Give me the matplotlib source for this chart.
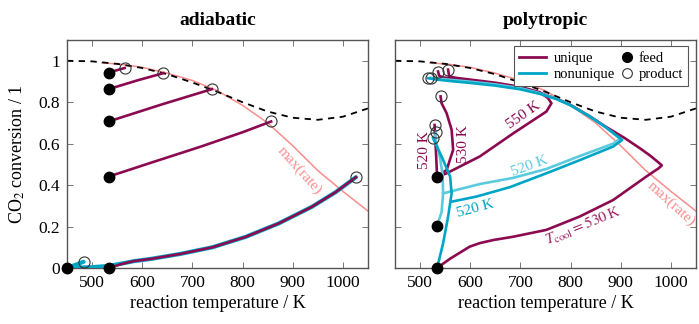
import numpy as np
import matplotlib
matplotlib.use("Agg")
import matplotlib.pyplot as plt
from matplotlib.lines import Line2D
from matplotlib.legend_handler import HandlerLine2D

plt.rcParams['font.family'] = ['Liberation Serif', 'DejaVu Serif']
plt.rcParams['mathtext.fontset'] = 'stix'

UNIQ = '#8b0a50'
NONU = '#00a5c6'
NONU_L = '#5ccadd'
PINK = '#fa8c8c'

# equilibrium conversion and max(rate) line (both panels)
eq_T = [450, 500, 550, 600, 650, 700, 750, 800, 850, 900, 950, 1000, 1050]
eq_X = [1.0, 0.997, 0.985, 0.965, 0.935, 0.895, 0.85, 0.80, 0.755, 0.725, 0.715, 0.73, 0.77]
mr_T = [520, 560, 600, 650, 700, 750, 800, 850, 900, 950, 1000, 1050]
mr_X = [0.99, 0.982, 0.968, 0.94, 0.905, 0.855, 0.785, 0.70, 0.59, 0.47, 0.37, 0.275]

# adiabatic panel
ad_uniq = [
    ([533, 565], [0.943, 0.965]),
    ([533, 590, 642], [0.863, 0.905, 0.94]),
    ([533, 640, 739], [0.707, 0.79, 0.863]),
    ([533, 620, 716, 800, 857], [0.441, 0.51, 0.585, 0.655, 0.707]),
    ([533, 560, 583, 620, 676, 740, 806, 872, 938, 985, 1026],
     [0.0, 0.02, 0.033, 0.045, 0.068, 0.10, 0.15, 0.215, 0.295, 0.365, 0.438]),
]
ad_nonu = [
    ([450, 483], [0.0, 0.03]),
    ([450, 500, 533, 560, 583, 620, 676, 740, 806, 872, 938, 985, 1026],
     [0.0, 0.004, 0.01, 0.022, 0.033, 0.045, 0.068, 0.10, 0.15, 0.215, 0.295, 0.365, 0.438]),
]
ad_feed_T = [533, 533, 533, 533, 533, 450]
ad_feed_X = [0.943, 0.863, 0.707, 0.441, 0.0, 0.0]
ad_prod_T = [565, 642, 739, 857, 1026, 483]
ad_prod_X = [0.965, 0.94, 0.863, 0.707, 0.438, 0.03]

# polytropic panel
po_nonu_dark = [
    ([534, 546, 556, 563, 560, 546, 535, 526],
     [0.0, 0.119, 0.248, 0.36, 0.441, 0.522, 0.58, 0.627]),
    ([563, 613, 679, 752, 818, 885, 903, 870, 838, 800, 772, 739, 700, 650, 600, 560, 530, 516],
     [0.32, 0.345, 0.39, 0.457, 0.52, 0.586, 0.618, 0.68, 0.731, 0.785, 0.815, 0.84, 0.862,
      0.88, 0.893, 0.902, 0.91, 0.916]),
]
po_nonu_light = [
    ([534, 543, 546, 545, 540, 533, 530, 532],
     [0.204, 0.27, 0.36, 0.45, 0.53, 0.6, 0.635, 0.658]),
    ([546, 619, 686, 752, 818, 885, 899, 866, 834, 796, 768, 735, 700, 650, 600, 560, 530, 521],
     [0.36, 0.405, 0.435, 0.478, 0.54, 0.6, 0.624, 0.686, 0.737, 0.79, 0.82, 0.846, 0.868,
      0.886, 0.899, 0.908, 0.915, 0.918]),
]
po_uniq = [
    # T_cool = 530 K
    ([534, 560, 599, 619, 646, 686, 752, 818, 885, 951, 975, 982, 975, 960, 940, 908,
      870, 838, 800, 772, 739, 700, 650, 600, 560, 545, 538, 536],
     [0.0, 0.045, 0.103, 0.12, 0.135, 0.151, 0.184, 0.248, 0.328, 0.441, 0.48, 0.495, 0.51,
      0.54, 0.575, 0.627, 0.682, 0.733, 0.787, 0.817, 0.845, 0.87, 0.89, 0.905, 0.915, 0.92,
      0.928, 0.948]),
    # 550 K
    ([540, 553, 619, 686, 752, 762, 755, 739, 700, 650, 600, 570, 558, 556],
     [0.445, 0.457, 0.538, 0.65, 0.755, 0.795, 0.82, 0.848, 0.874, 0.894, 0.909, 0.918,
      0.925, 0.957]),
    # 530 K
    ([536, 553, 566, 563, 553, 543, 541],
     [0.445, 0.473, 0.57, 0.667, 0.747, 0.795, 0.828]),
    # 520 K
    ([534, 532, 530, 529],
     [0.438, 0.55, 0.64, 0.69]),
]
po_feed_T = [534, 534, 534]
po_feed_X = [0.438, 0.204, 0.0]
po_prod_T = [516, 521, 536, 556, 541, 529, 532, 526]
po_prod_X = [0.916, 0.918, 0.948, 0.957, 0.828, 0.69, 0.658, 0.627]


class RightMarker(HandlerLine2D):
    # put the legend marker at the right end of its handle box
    def get_xdata(self, legend, xdescent, ydescent, width, height, fontsize):
        x = width - xdescent - 0.3 * fontsize
        return [x, x], [x, x]


def style_axes(ax):
    ax.set_xlim(450, 1050)
    ax.set_ylim(0, 1.1)
    ax.set_xticks([500, 600, 700, 800, 900, 1000])
    ax.set_yticks([0, 0.2, 0.4, 0.6, 0.8, 1.0])
    ax.tick_params(direction='in', top=True, right=True, length=4, width=0.7,
                   color='#777777', labelsize=12.5, pad=5)
    for s in ax.spines.values():
        s.set_color('#555555')
        s.set_linewidth(1.0)
    ax.set_xlabel('reaction temperature / K', fontsize=13, labelpad=3)
    ax.plot(mr_T, mr_X, color=PINK, lw=1.1, zorder=2)
    ax.plot(eq_T, eq_X, color='black', lw=1.3, ls=(0, (3.5, 3)), zorder=2)


def feeds_products(ax, fT, fX, pT, pX):
    ax.plot(fT, fX, 'o', color='black', ms=7.5, zorder=6, clip_on=False)
    ax.plot(pT, pX, 'o', mfc='none', mec='#333333', mew=0.8, ms=8, zorder=6, clip_on=False)


fig = plt.figure(figsize=(6.99, 3.24), dpi=100)
ax1 = fig.add_axes([0.0958, 0.1728, 0.4306, 0.7037])
ax2 = fig.add_axes([0.565, 0.1728, 0.4306, 0.7037])

# adiabatic
style_axes(ax1)
for T, X in ad_nonu:
    ax1.plot(T, X, color=NONU, lw=3.0, zorder=3, solid_capstyle='round')
for T, X in ad_uniq:
    ax1.plot(T, X, color=UNIQ, lw=1.9, zorder=4)
feeds_products(ax1, ad_feed_T, ad_feed_X, ad_prod_T, ad_prod_X)
ax1.set_yticklabels(['0', '0.2', '0.4', '0.6', '0.8', '1'])
ax1.set_ylabel('CO$_2$ conversion / 1', fontsize=13, labelpad=8)
ax1.set_title('adiabatic', fontsize=14, fontweight='bold', pad=11)
ax1.text(913, 0.47, 'max(rate)', color=PINK, fontsize=11, rotation=-48,
         ha='center', va='center')

# polytropic
style_axes(ax2)
ax2.set_yticklabels([])
for T, X in po_uniq:
    ax2.plot(T, X, color=UNIQ, lw=1.9, zorder=3)
for T, X in po_nonu_light:
    ax2.plot(T, X, color=NONU_L, lw=1.9, zorder=4)
for T, X in po_nonu_dark:
    ax2.plot(T, X, color=NONU, lw=1.9, zorder=4)
feeds_products(ax2, po_feed_T, po_feed_X, po_prod_T, po_prod_X)
ax2.set_title('polytropic', fontsize=14, fontweight='bold', pad=11)

ax2.text(706, 0.735, '550 K', color=UNIQ, fontsize=11, rotation=35, ha='center', va='center')
ax2.text(586, 0.60, '530 K', color=UNIQ, fontsize=11, rotation=90, ha='center', va='center')
ax2.text(508, 0.57, '520 K', color=UNIQ, fontsize=11, rotation=90, ha='center', va='center')
ax2.text(719, 0.49, '520 K', color=NONU_L, fontsize=11, rotation=20, ha='center', va='center')
ax2.text(611, 0.285, '520 K', color=NONU, fontsize=11, rotation=15, ha='center', va='center')
ax2.text(825, 0.20, r'$T_{\mathrm{cool}} = 530\,$K', color='#a0205f', fontsize=11,
         rotation=22, ha='center', va='center')
ax2.text(1001, 0.31, 'max(rate)', color=PINK, fontsize=11, rotation=-42,
         ha='center', va='center')

feed_h = Line2D([], [], ls='none', marker='o', color='black', ms=7)
prod_h = Line2D([], [], ls='none', marker='o', mfc='none', mec='#333333', mew=0.8, ms=7)
handles = [Line2D([], [], color=UNIQ, lw=2), Line2D([], [], color=NONU, lw=2), feed_h, prod_h]
leg = ax2.legend(handles, ['unique', 'nonunique', 'feed', 'product'], ncol=2,
                 loc='upper right', bbox_to_anchor=(0.975, 0.972), fontsize=10.5,
                 frameon=True, fancybox=False, edgecolor='#555555', handlelength=1.9,
                 handletextpad=0.5, columnspacing=-0.75, labelspacing=0.2,
                 borderpad=0.35, borderaxespad=0, framealpha=1, numpoints=1,
                 handler_map={feed_h: RightMarker(), prod_h: RightMarker()})
leg.get_frame().set_linewidth(0.8)

fig.savefig('out.png', dpi=100)
